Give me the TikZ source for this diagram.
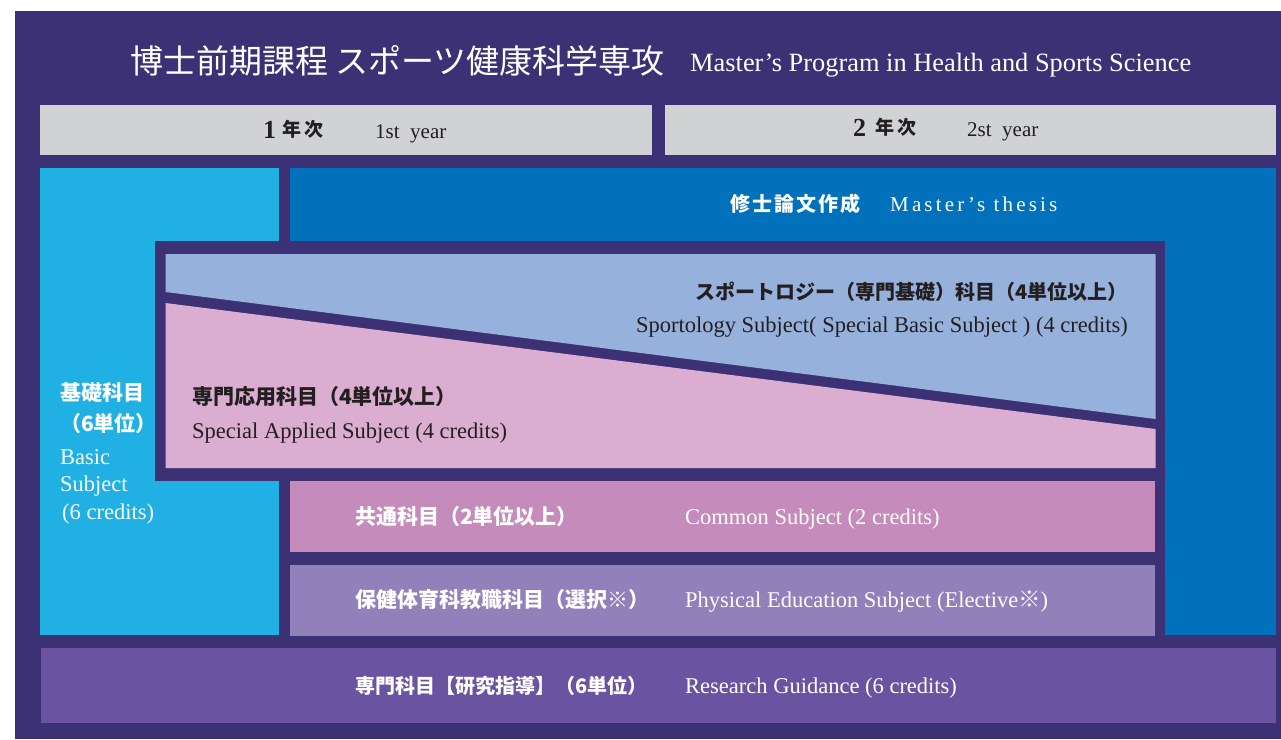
\documentclass[tikz,border=0pt]{standalone}
\usepackage{fontspec}
\setmainfont{Liberation Serif}
\newfontfamily\jp{Noto Sans CJK JP}
\definecolor{bgpurple}{HTML}{3D3176}
\definecolor{headgray}{HTML}{D1D2D4}
\definecolor{skyblue}{HTML}{20B0E4}
\definecolor{deepblue}{HTML}{0071BA}
\definecolor{paleblue}{HTML}{95B1DC}
\definecolor{palepink}{HTML}{DBADD1}
\definecolor{mauve}{HTML}{C48BBB}
\definecolor{lavender}{HTML}{9180B9}
\definecolor{violet}{HTML}{6A53A0}
\definecolor{inkdark}{HTML}{231F20}
\begin{document}
\begin{tikzpicture}[x=1pt,y=-1pt,
  jplab/.style={anchor=base west,inner sep=0pt,font=\jp\bfseries\fontsize{21}{25}\selectfont},
  jpsmall/.style={jplab,font=\jp\bfseries\fontsize{20}{24}\selectfont},
  enlab/.style={anchor=base west,inner sep=0pt,font=\fontsize{22.5}{27}\selectfont},
  yearlab/.style={anchor=base west,inner sep=0pt,text=inkdark}]
	\useasboundingbox (0,0) rectangle (1281,739);
	\fill[white] (0,0) rectangle (1281,739);
	\fill[bgpurple] (15,11) rectangle (1281,739);
	% boxes
	\fill[headgray] (40,105) rectangle (652,155);
	\fill[headgray] (665,105) rectangle (1276,155);
	\fill[skyblue] (40,168) rectangle (279,635);
	\fill[deepblue] (290,168) rectangle (1276,635);
	\fill[bgpurple] (155,241) rectangle (1165,481);
	\fill[bgpurple] (279,481) rectangle (1165,636);
	\fill[paleblue] (165.5,254) -- (1155.5,254) -- (1155.5,419) -- (165.5,292) -- cycle;
	\fill[palepink] (165.5,303) -- (1155.5,429) -- (1155.5,468) -- (165.5,468) -- cycle;
	\fill[mauve] (290,481) rectangle (1155,552);
	\fill[lavender] (290,565) rectangle (1155,636);
	\fill[violet] (41,648) rectangle (1276,723);
	% texts
	\node[anchor=base west,inner sep=0pt,text=white,font=\jp\fontsize{33}{38}\selectfont] (titlejp) at (130,73) {博士前期課程 スポーツ健康科学専攻};
	\node[anchor=base west,inner sep=0pt,text=white,font=\fontsize{26.4}{31}\selectfont] (titleen) at (690,71) {Master’s Program in Health and Sports Science};
	\node[yearlab,font=\bfseries\fontsize{26}{30}\selectfont] (yearone) at (263,138) {1};
	\node[yearlab,font=\jp\bfseries\fontsize{19}{22}\selectfont\addfontfeature{LetterSpace=20}] (yearonejp) at (282,136) {年次};
	\node[yearlab,font=\fontsize{21}{25}\selectfont] (yearoneen) at (375,138) {1st\ \ year};
	\node[yearlab,font=\bfseries\fontsize{26}{30}\selectfont] (yeartwo) at (853,136) {2};
	\node[yearlab,font=\jp\bfseries\fontsize{19}{22}\selectfont\addfontfeature{LetterSpace=20}] (yeartwojp) at (875,134) {年次};
	\node[yearlab,font=\fontsize{21}{25}\selectfont] (yeartwoen) at (967,136) {2st\ \ year};
	\node[jplab,text=white,font=\jp\bfseries\fontsize{20}{24}\selectfont\addfontfeature{LetterSpace=10}] (thesisjp) at (730,211) {修士論文作成};
	\node[anchor=base west,inner sep=0pt,text=white,font=\fontsize{21}{25}\selectfont\addfontfeature{LetterSpace=15}] (thesisen) at (890,211) {Master's thesis};
	\node[jpsmall,anchor=base east,text=inkdark] (sportjp) at (1128,299) {スポートロジー（専門基礎）科目（4単位以上）};
	\node[enlab,anchor=base east,text=inkdark] (sporten) at (1128,332) {Sportology Subject( Special Basic Subject ) (4 credits)};
	\node[jplab,text=inkdark] (appliedjp) at (192,404) {専門応用科目（4単位以上）};
	\node[enlab,text=inkdark] (applieden) at (192,438) {Special Applied Subject (4 credits)};
	\node[jplab,text=white] (basicjp) at (60,400) {基礎科目};
	\node[jplab,text=white] (basicjpcr) at (60,431) {（6単位）};
	\node[enlab,text=white] (basicen) at (60,464) {Basic};
	\node[enlab,text=white] (basicensub) at (60,491) {Subject};
	\node[enlab,text=white] (basicencr) at (62,519) {(6 credits)};
	\node[jplab,text=white] (commonjp) at (355,524) {共通科目（2単位以上）};
	\node[enlab,text=white] (commonen) at (685,524) {Common Subject (2 credits)};
	\node[jplab,text=white] (pejp) at (355,607) {保健体育科教職科目（選択※）};
	\node[enlab,text=white] (peen) at (685,607) {Physical Education Subject (Elective{\jp ※})};
	\node[jpsmall,text=white] (researchjp) at (355,693) {専門科目【研究指導】（6単位）};
	\node[enlab,text=white] (researchen) at (685,693) {Research Guidance (6 credits)};
\end{tikzpicture}
\end{document}
